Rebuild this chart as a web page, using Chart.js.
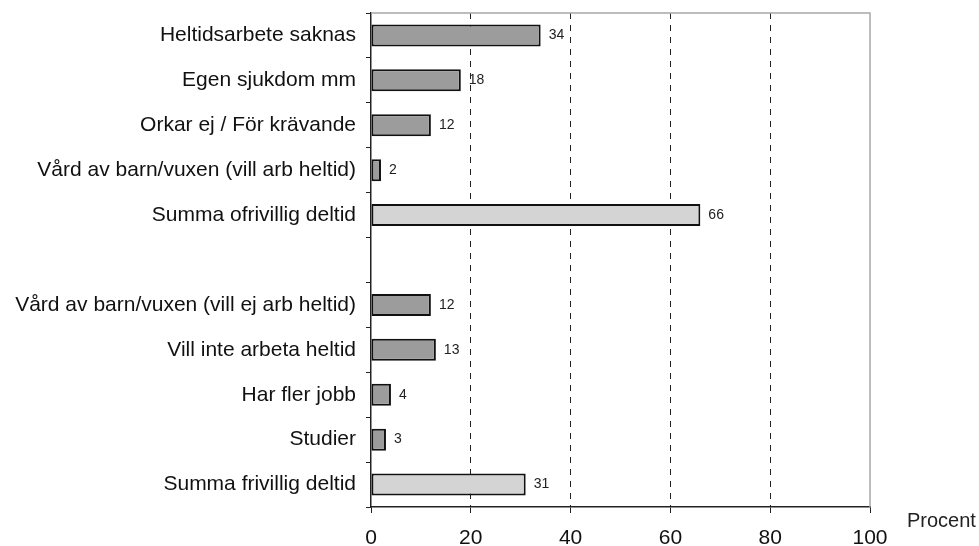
<!DOCTYPE html>
<html><head><meta charset="utf-8">
<script src="https://cdn.jsdelivr.net/npm/chart.js@4.4.1/dist/chart.umd.min.js"></script>
<style>html,body{margin:0;padding:0;background:#fff}#wrap{width:979px;height:546px}</style>
</head><body><div id="wrap"><canvas id="c" width="979" height="546"></canvas></div>
<script>
const categories = [
  "Heltidsarbete saknas",
  "Egen sjukdom mm",
  "Orkar ej / För krävande",
  "Vård av barn/vuxen (vill arb heltid)",
  "Summa ofrivillig deltid",
  "",
  "Vård av barn/vuxen (vill ej arb heltid)",
  "Vill inte arbeta heltid",
  "Har fler jobb",
  "Studier",
  "Summa frivillig deltid"
];
const values = [34, 18, 12, 2, 66, null, 12, 13, 4, 3, 31];
const valueLabels = ["34", "18", "12", "2", "66", "", "12", "13", "4", "3", "31"];
const isSum = [false, false, false, false, true, false, false, false, false, false, true];
const xTicks = [0, 20, 40, 60, 80, 100];
const axisTitle = "Procent";

const FONT = "'Liberation Sans', Arial, sans-serif";

const overlay = {
  id: 'overlay',
  beforeDatasetsDraw(chart) {
    const {ctx, chartArea: a} = chart;
    ctx.save();
    ctx.strokeStyle = '#a8a8a8';
    ctx.lineWidth = 1.5;
    ctx.beginPath();
    ctx.moveTo(a.left, a.top);
    ctx.lineTo(a.right, a.top);
    ctx.lineTo(a.right, a.bottom);
    ctx.stroke();
    ctx.restore();
  },
  afterDatasetsDraw(chart) {
    const {ctx} = chart;
    const meta = chart.getDatasetMeta(0);
    ctx.save();
    ctx.font = "14px " + FONT;
    ctx.fillStyle = '#222';
    ctx.textAlign = 'left';
    ctx.textBaseline = 'middle';
    meta.data.forEach((bar, i) => {
      if (values[i] == null) return;
      ctx.fillText(valueLabels[i], bar.x + 8, bar.y);
    });
    ctx.font = "20px " + FONT;
    ctx.fillText(axisTitle, 907, 521);
    ctx.restore();
  }
};

new Chart(document.getElementById('c'), {
  type: 'bar',
  data: {
    labels: categories,
    datasets: [{
      data: values,
      backgroundColor: isSum.map(s => s ? '#d4d4d4' : '#9c9c9c'),
      borderColor: '#111',
      borderWidth: 2,
      borderSkipped: false,
      barPercentage: 0.49,
      categoryPercentage: 1.0
    }]
  },
  options: {
    indexAxis: 'y',
    responsive: false,
    animation: false,
    layout: {padding: {top: 13, right: 109, left: 0, bottom: 0}},
    plugins: {legend: {display: false}, tooltip: {enabled: false}},
    scales: {
      x: {
        min: 0, max: 100,
        afterBuildTicks: s => { s.ticks = xTicks.map(v => ({value: v})); },
        afterFit: s => { s.height = 39; s.paddingLeft = 0; s.paddingRight = 0; },
        ticks: {color: '#111', font: {family: FONT, size: 21}, padding: 13, maxRotation: 0},
        grid: {
          color: c => (c.tick && (c.tick.value === 0 || c.tick.value === 100)) ? 'rgba(0,0,0,0)' : '#222',
          tickColor: '#222',
          tickLength: 6,
          lineWidth: 1
        },
        border: {color: '#222', width: 1.5, dash: [6, 6]}
      },
      y: {
        afterFit: s => { s.width = 371; s.paddingTop = 0; s.paddingBottom = 0; },
        ticks: {color: '#111', font: {family: FONT, size: 21}, padding: 10, autoSkip: false},
        grid: {drawOnChartArea: false, offset: true, tickColor: '#222', tickLength: 5},
        border: {color: '#222', width: 1.5}
      }
    }
  },
  plugins: [overlay]
});
</script>
</body></html>
